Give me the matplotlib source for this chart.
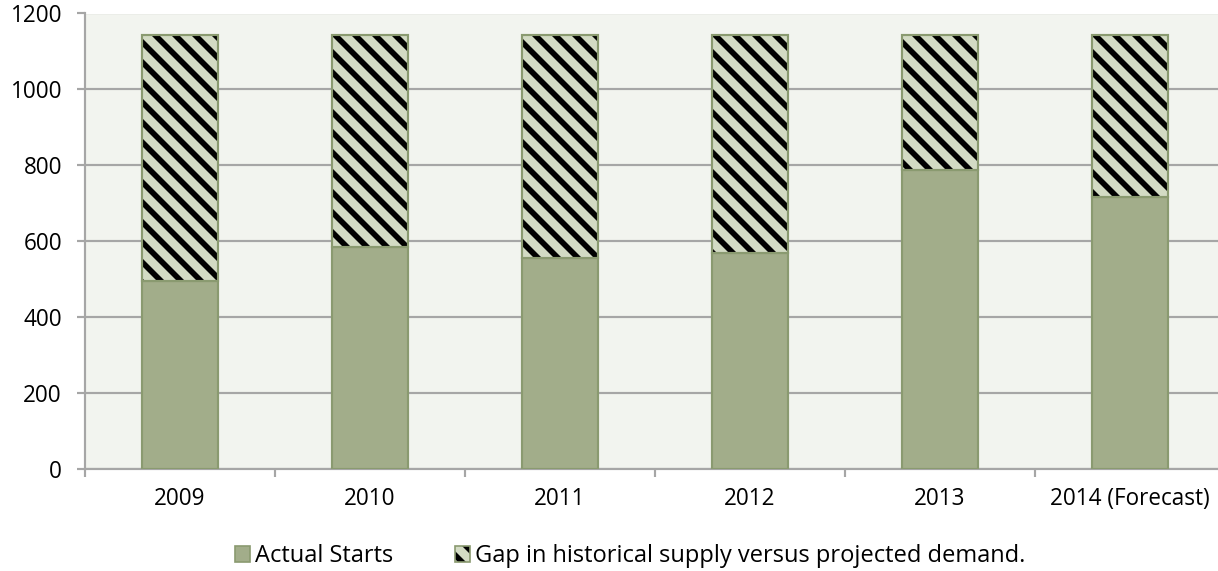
import matplotlib
matplotlib.use("Agg")
import matplotlib.pyplot as plt
import matplotlib.patches as mpatches
import numpy as np

# data
years = ["2009", "2010", "2011", "2012", "2013", "2014 (Forecast)"]
actual_starts = [496, 586, 556, 568, 789, 717]
total_demand = [1143, 1143, 1143, 1143, 1143, 1143]
gap = [t - a for t, a in zip(total_demand, actual_starts)]

plt.rcParams['font.family'] = ['Open Sans', 'DejaVu Sans']
plt.rcParams['hatch.linewidth'] = 3.4

fontsize = 13.5
dpi = 120
fig = plt.figure(figsize=(1218 / dpi, 571 / dpi), dpi=dpi)
ax = fig.add_axes([85 / 1218, 1 - 469 / 571, 1140 / 1218, 455.5 / 571])  # x,y, lenght, height
ax.set_facecolor("#F2F4EF")

x = np.arange(len(years))
green = "#A2AD8A"
light = "#D3DBC4"
edge = "#8A9A70"
gray = "#A6A6A6"

# actual starts
ax.bar(x, actual_starts, width=0.4, color=green, edgecolor=edge, linewidth=1.3, zorder=3)
# gap: hatch drawn in black, then green outline on top
ax.bar(x, gap, bottom=actual_starts, width=0.4, facecolor=light, edgecolor="black",
       linewidth=0, hatch="\\\\", zorder=3)
ax.bar(x, gap, bottom=actual_starts, width=0.4, fill=False, edgecolor=edge,
       linewidth=1.3, zorder=4)

ax.set_xlim(-0.5, len(years) - 0.5)
ax.set_ylim(0, 1200)
ax.set_yticks(range(0, 1201, 200))
ax.yaxis.grid(True, color=gray, linewidth=1.3, zorder=0)
ax.set_axisbelow(True)

# category labels centred, ticks between categories
ax.set_xticks(x)
ax.set_xticklabels(years, fontsize=fontsize)
ax.set_xticks(np.arange(-0.5, len(years), 1), minor=True)
ax.tick_params(axis='x', which='major', length=0, pad=11)
ax.tick_params(axis='x', which='minor', length=4.5, width=1.3, color=gray)
ax.tick_params(axis='y', length=4.8, width=1.3, color=gray, labelsize=fontsize, pad=9)

for side in ['top', 'right']:
    ax.spines[side].set_visible(False)
for side in ['left', 'bottom']:
    ax.spines[side].set_color(gray)
    ax.spines[side].set_linewidth(1.3)

###############################################################################
# legend
leg_a = mpatches.Patch(facecolor=green, edgecolor=edge, linewidth=1.0)
leg_g_fill = mpatches.Patch(facecolor=light, edgecolor="black", linewidth=0, hatch="\\\\")
leg_g_edge = mpatches.Patch(fill=False, edgecolor=edge, linewidth=1.0)
fig.legend(handles=[leg_a, (leg_g_fill, leg_g_edge)],
           labels=["Actual Starts", "Gap in historical supply versus projected demand."],
           loc="center", bbox_to_anchor=(630 / 1218, 1 - 556 / 571),
           ncol=2, frameon=False, fontsize=14.2, handlelength=0.65, handleheight=0.65,
           handletextpad=0.2, columnspacing=2.6, borderpad=0)

fig.savefig("out.png", dpi=dpi)
